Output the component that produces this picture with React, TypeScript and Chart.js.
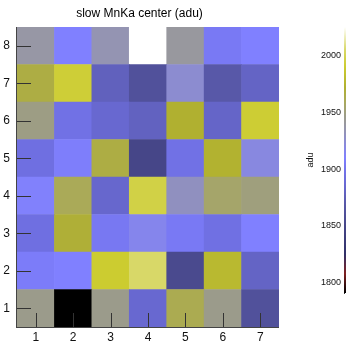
import React, { useEffect, useRef } from 'react';
import { Chart, registerables } from 'chart.js';

Chart.register(...registerables);

// ---- data ----
const xLabels = ['1', '2', '3', '4', '5', '6', '7'];
const yTicks = [1, 2, 3, 4, 5, 6, 7, 8];
const row1 = [1946, 1791, 1946, 1885, 1962, 1946, 1862];
const row2 = [1907, 1910, 1990, 2005, 1854, 1978, 1881];
const row3 = [1894, 1970, 1903, 1916, 1904, 1895, 1910];
const row4 = [1911, 1960, 1884, 1996, 1930, 1955, 1950];
const row5 = [1894, 1908, 1966, 1850, 1896, 1973, 1920];
const row6 = [1948, 1896, 1885, 1879, 1972, 1882, 1991];
const row7 = [1966, 1992, 1878, 1862, 1925, 1870, 1881];
const row8 = [1938, 1910, 1934, 2025, 1940, 1904, 1910];
const rows = [row1, row2, row3, row4, row5, row6, row7, row8];
const chartTitle = 'slow MnKa center (adu)';
const cbTitle = 'adu';
const cbMin = 1791;
const cbMax = 2025;
const cbTicks = [1800, 1850, 1900, 1950, 2000];
const cbMinorStep = 10;

// ---- colormap (style) ----
const cmapStops = [1791, 1808, 1825, 1850, 1870, 1885, 1900, 1910, 1925, 1937, 1947, 1960, 1972, 1990, 2005, 2025];
const cmapColors = ['#000000', '#802020', '#303068', '#464688', '#5858a8', '#6868d0', '#7474ec', '#8080ff', '#8c8cd0', '#9696a8', '#9c9c88', '#aaaa58', '#b0b030', '#cccc30', '#d8d868', '#ffffff'];

function hexToRgb(h: string) {
  return [parseInt(h.slice(1, 3), 16), parseInt(h.slice(3, 5), 16), parseInt(h.slice(5, 7), 16)];
}
function cmap(v: number): string {
  if (v <= cmapStops[0]) return cmapColors[0];
  for (let i = 1; i < cmapStops.length; i++) {
    if (v <= cmapStops[i]) {
      const t = (v - cmapStops[i - 1]) / (cmapStops[i] - cmapStops[i - 1]);
      const a = hexToRgb(cmapColors[i - 1]);
      const b = hexToRgb(cmapColors[i]);
      const c = a.map((x, k) => Math.round(x + (b[k] - x) * t));
      return `rgb(${c[0]},${c[1]},${c[2]})`;
    }
  }
  return cmapColors[cmapColors.length - 1];
}

const FONT = '"Liberation Sans", Arial, Helvetica, sans-serif';

const inwardTicks = {
  id: 'inwardTicks',
  afterDatasetsDraw(chart: any) {
    const { ctx, chartArea, scales } = chart;
    const { left, right, top, bottom } = chartArea;
    const x = scales.x;
    const y = scales.y;
    ctx.save();
    ctx.strokeStyle = '#333';
    ctx.lineWidth = 1;
    ctx.beginPath();
    y.ticks.forEach((t: any) => {
      const py = Math.round(y.getPixelForValue(t.value)) + 0.5;
      ctx.moveTo(left, py);
      ctx.lineTo(left + 14, py);
    });
    x.ticks.forEach((_t: any, i: number) => {
      const px = Math.round(x.getPixelForTick(i)) + 0.5;
      ctx.moveTo(px, bottom);
      ctx.lineTo(px, bottom - 14);
    });
    ctx.stroke();
    ctx.strokeStyle = '#444';
    ctx.beginPath();
    ctx.moveTo(left - 0.5, top);
    ctx.lineTo(left - 0.5, bottom + 1);
    ctx.moveTo(left - 1, bottom + 0.5);
    ctx.lineTo(right, bottom + 0.5);
    ctx.stroke();
    ctx.restore();
  },
};

const cbGradient = {
  id: 'cbGradient',
  beforeDatasetsDraw(chart: any) {
    const { ctx, chartArea, scales } = chart;
    const { left, right, top, bottom } = chartArea;
    const y = scales.y;
    const y0 = y.getPixelForValue(cbMin);
    const y1 = y.getPixelForValue(cbMax);
    const g = ctx.createLinearGradient(0, y0, 0, y1);
    cmapStops.forEach((s, i) => {
      const o = Math.min(1, Math.max(0, (s - cbMin) / (cbMax - cbMin)));
      g.addColorStop(o, cmapColors[i]);
    });
    ctx.save();
    ctx.fillStyle = g;
    ctx.fillRect(left, top, right - left, bottom - top);
    ctx.restore();
  },
};

export default function App() {
  const mainRef = useRef<HTMLCanvasElement>(null);
  const cbRef = useRef<HTMLCanvasElement>(null);

  useEffect(() => {
    Chart.defaults.font.family = FONT;
    const datasets = rows.map((vals, r) => ({
      label: `row ${yTicks[r]}`,
      data: xLabels.map(() => [yTicks[r] - 0.5, yTicks[r] + 0.5]),
      backgroundColor: vals.map(cmap),
      borderWidth: 0,
      grouped: false,
      barPercentage: 1,
      categoryPercentage: 1,
    }));
    const main = new Chart(mainRef.current!, {
      type: 'bar',
      data: { labels: xLabels, datasets: datasets as any },
      options: {
        animation: false,
        responsive: false,
        maintainAspectRatio: false,
        layout: { padding: { left: 0, top: 0, right: 67, bottom: 0 } },
        plugins: {
          legend: { display: false },
          tooltip: { enabled: false },
          title: {
            display: true,
            text: chartTitle,
            color: '#000',
            font: { size: 12, weight: 'normal', family: FONT },
            padding: { top: 6, bottom: 6.6 },
          },
        },
        scales: {
          x: {
            type: 'category',
            offset: true,
            grid: { display: false, drawTicks: false },
            border: { display: false },
            ticks: { color: '#111', font: { size: 12 }, padding: 3, maxRotation: 0, autoSkip: false },
            afterFit: (s: any) => { s.height = 16; },
          },
          y: {
            type: 'linear',
            min: 0.5,
            max: 8.5,
            grid: { display: false, drawTicks: false },
            border: { display: false },
            ticks: { color: '#111', font: { size: 12 }, padding: 7 },
            afterBuildTicks: (s: any) => { s.ticks = yTicks.map((v) => ({ value: v })); },
            afterFit: (s: any) => { s.width = 17; },
          },
        },
      } as any,
      plugins: [inwardTicks],
    });

    const cb = new Chart(cbRef.current!, {
      type: 'bar',
      data: { labels: [''], datasets: [] },
      options: {
        animation: false,
        responsive: false,
        maintainAspectRatio: false,
        layout: { padding: { left: 0, top: 27, right: 0, bottom: 50 } },
        plugins: { legend: { display: false }, tooltip: { enabled: false }, title: { display: false } },
        scales: {
          x: { type: 'category', display: false },
          y: {
            type: 'linear',
            position: 'left',
            min: cbMin,
            max: cbMax,
            z: 1,
            grid: { display: true, drawOnChartArea: true, drawTicks: false, color: '#444', lineWidth: 1 },
            border: { display: true, color: '#333', width: 1 },
            ticks: {
              color: '#111',
              font: { size: 9 },
              padding: 3,
              autoSkip: false,
              callback: (v: any) => (cbTicks.includes(Number(v)) ? String(v) : ''),
            },
            title: { display: true, text: cbTitle, color: '#111', font: { size: 9 }, padding: { top: 14.6, bottom: 0 } },
            afterBuildTicks: (s: any) => {
              const t: any[] = [];
              for (let v = cbTicks[0]; v <= cbMax; v += cbMinorStep) t.push({ value: v });
              s.ticks = t;
            },
            afterFit: (s: any) => { s.width = 53; },
          },
        },
      } as any,
      plugins: [cbGradient],
    });

    return () => {
      main.destroy();
      cb.destroy();
    };
  }, []);

  return (
    <div style={{ position: 'absolute', left: 0, top: 0, width: 346, height: 343, overflow: 'hidden', background: '#fff' }}>
      <canvas ref={mainRef} width={346} height={343} style={{ position: 'absolute', left: 0, top: 0, width: 346, height: 343 }} />
      <canvas ref={cbRef} width={60} height={343} style={{ position: 'absolute', left: 291, top: 0, width: 60, height: 343 }} />
    </div>
  );
}
